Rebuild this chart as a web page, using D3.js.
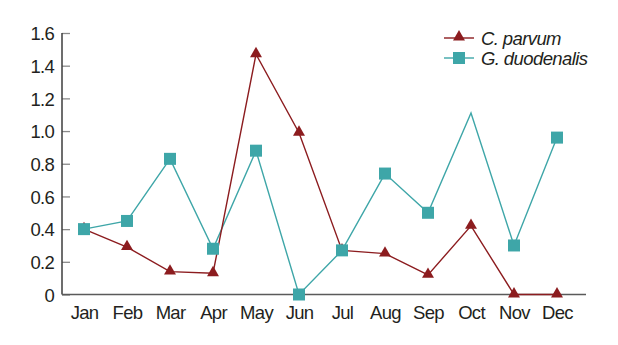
<!DOCTYPE html>
<html>
<head>
<meta charset="utf-8">
<script src="https://cdn.jsdelivr.net/npm/d3@7"></script>
<style>
  html, body { margin: 0; padding: 0; background: #fff; }
  svg { display: block; }
  text { font-family: "Liberation Sans", Arial, Helvetica, sans-serif; fill: #231f20; }
</style>
</head>
<body>
<svg id="chart" width="618" height="345"></svg>
<script>
// Monthly values for the two parasites
const months = ["Jan", "Feb", "Mar", "Apr", "May", "Jun", "Jul", "Aug", "Sep", "Oct", "Nov", "Dec"];
const parvum = [0.40, 0.29, 0.14, 0.13, 1.47, 0.99, 0.27, 0.25, 0.12, 0.42, 0, 0];
const duodenalis = [0.40, 0.45, 0.83, 0.28, 0.88, 0, 0.27, 0.74, 0.50, 1.11, 0.30, 0.96];
// months whose G. duodenalis point carries a square marker
const duodenalisMarked = [true, true, true, true, true, true, true, true, true, false, true, true];
const yTicks = [0, 0.2, 0.4, 0.6, 0.8, 1.0, 1.2, 1.4, 1.6];
const seriesNames = ["C. parvum", "G. duodenalis"];

const red = "#8c1c1f";
const teal = "#3ea6a8";

const svg = d3.select("#chart");

const x = d3.scalePoint().domain(months).range([84, 557]);
const y = d3.scaleLinear().domain([0, 1.6]).range([294.5, 33]);

// y axis: ticks point inward
const yAxis = svg.append("g").attr("transform", "translate(62,0)")
  .call(d3.axisRight(y).tickValues(yTicks).tickSize(8)
    .tickFormat(d => d === 0 ? "0" : d3.format(".1f")(d)));
yAxis.select(".domain").remove();
yAxis.selectAll(".tick line").attr("stroke", "#8a8a8a").attr("stroke-width", 1.3);
yAxis.selectAll(".tick text")
  .attr("x", -8).attr("text-anchor", "end").attr("dy", "0.36em")
  .style("font-size", "18.5px").style("letter-spacing", "-0.7px").attr("fill", "#231f20");

svg.append("line").attr("x1", 62).attr("x2", 62).attr("y1", 33).attr("y2", y(0))
  .attr("stroke", "#3c3c3c").attr("stroke-width", 1.5);

// x axis: labels only, baseline line
const xAxis = svg.append("g").attr("transform", `translate(0,${y(0)})`)
  .call(d3.axisBottom(x).tickSize(0).tickPadding(11));
xAxis.select(".domain").remove();
xAxis.selectAll(".tick text")
  .style("font-size", "18.5px").style("letter-spacing", "-0.7px").attr("fill", "#231f20");

svg.append("line").attr("x1", 62).attr("x2", 586).attr("y1", y(0)).attr("y2", y(0))
  .attr("stroke", "#5a5a5a").attr("stroke-width", 1.6);

const line = d3.line().x((d, i) => x(months[i])).y(d => y(d));

// G. duodenalis line
svg.append("path").datum(duodenalis).attr("d", line)
  .attr("fill", "none").attr("stroke", teal).attr("stroke-width", 1.4);

// C. parvum line
svg.append("path").datum(parvum).attr("d", line)
  .attr("fill", "none").attr("stroke", red).attr("stroke-width", 1.4);

// C. parvum triangles
const tri = d3.symbol().type(d3.symbolTriangle).size(62);
svg.append("g").selectAll("path").data(parvum).join("path")
  .attr("d", tri)
  .attr("transform", (d, i) => `translate(${x(months[i])},${y(d) - 0.5})`)
  .attr("fill", red);

// G. duodenalis squares, on top
svg.append("g").selectAll("rect")
  .data(duodenalis.map((v, i) => ({ v, i })).filter(d => duodenalisMarked[d.i]))
  .join("rect")
  .attr("x", d => x(months[d.i]) - 6).attr("y", d => y(d.v) - 6)
  .attr("width", 12).attr("height", 12).attr("fill", teal);

// legend
const legend = svg.append("g");
const rows = [{ name: seriesNames[0], color: red, shape: "tri", cy: 38 },
              { name: seriesNames[1], color: teal, shape: "sq", cy: 58 }];
rows.forEach(r => {
  legend.append("line").attr("x1", 444).attr("x2", 474).attr("y1", r.cy).attr("y2", r.cy)
    .attr("stroke", r.color).attr("stroke-width", 1.4);
  if (r.shape === "tri") {
    legend.append("path").attr("d", tri).attr("transform", `translate(459,${r.cy - 1})`).attr("fill", r.color);
  } else {
    legend.append("rect").attr("x", 453).attr("y", r.cy - 6).attr("width", 12).attr("height", 12).attr("fill", r.color);
  }
  legend.append("text").attr("x", 481).attr("y", r.cy).attr("dy", "0.36em")
    .style("font-size", "18.5px").style("font-style", "italic").style("letter-spacing", "-0.6px")
    .text(r.name);
});
</script>
</body>
</html>
